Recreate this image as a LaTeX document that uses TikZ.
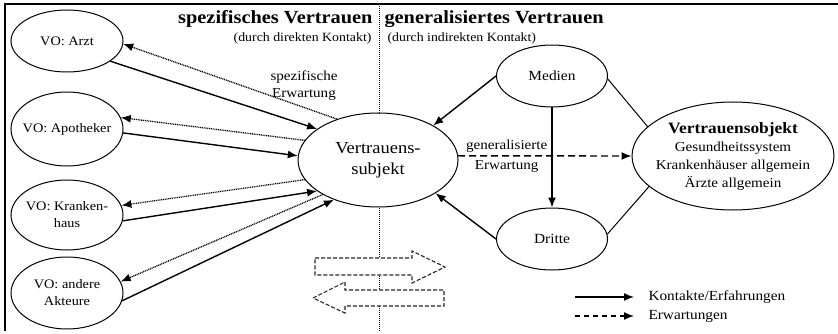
\documentclass[tikz,border=0pt]{standalone}
\usepackage{fontspec}
\setmainfont{Liberation Serif}[FakeStretch=1.1]
\usetikzlibrary{shapes.geometric, arrows, arrows.meta, positioning}
\tikzstyle{actor} = [ellipse, draw, line width=1pt, minimum width=112pt, minimum height=66pt, inner xsep=-8pt, inner ysep=-4pt, align=center, font=\fontsize{13}{17}\selectfont]
\tikzstyle{arrow} = [line width=1.4pt,->,>={Latex[length=10pt,width=8pt]},draw=black]
\tikzstyle{expect} = [line width=1.3pt,->,>={Latex[length=10pt,width=8pt]},draw=black,dash pattern=on 1pt off 0.8pt]
\tikzstyle{general} = [line width=1.4pt,->,>={Latex[length=10pt,width=8pt]},draw=black,dash pattern=on 7pt off 4pt]
\tikzstyle{link} = [line width=1pt,draw=black]
\tikzstyle{bigarrow} = [draw=black!85, fill=white, line width=1.1pt, dash pattern=on 4pt off 2pt]
\tikzstyle{lbl} = [font=\fontsize{13.7}{17}\selectfont, align=center]

\begin{document}
\begin{tikzpicture}[x=1pt, y=-1pt, node distance=163pt, text centered, auto]
        \useasboundingbox (0,0) rectangle (838,334);
        \draw[line width=1.8pt] (5,331) -- (5,4) -- (838,4);

        % Trennlinie
        \draw[line width=0.9pt, dash pattern=on 1pt off 1pt] (379,6) -- (379,332);

        % Ueberschriften
        \node (spez) [anchor=east, font=\fontsize{18.5}{20}\selectfont\bfseries] at (376,19) {spezifisches Vertrauen};
        \node (spezsub) [anchor=east, font=\fontsize{12.6}{14}\selectfont] at (375,38) {(durch direkten Kontakt)};
        \node (gen) [anchor=west, font=\fontsize{18.5}{20}\selectfont\bfseries] at (381,19) {generalisiertes Vertrauen};
        \node (gensub) [anchor=west, font=\fontsize{12.6}{14}\selectfont] at (384,38) {(durch indirekten Kontakt)};

        % Vertrauensobjekte links
        \node (arzt) [actor, minimum height=62pt] at (67,41) {VO: Arzt};
        \node (apo) [actor, minimum height=74pt] at (67,129) {VO: Apotheker};
        \node (kh) [actor, minimum height=70pt] at (67,215) {VO: Kranken-\\haus};
        \node (andere) [actor, minimum height=72pt] at (67,293) {VO: andere\\Akteure};

        \node (subj) [actor, fill=white, minimum width=160pt, minimum height=94pt, font=\fontsize{16.8}{21}\selectfont] at (378,160) {Vertrauens-\\subjekt};

        \node (medien) [actor, minimum width=111pt, minimum height=62pt, font=\fontsize{14}{17}\selectfont] at (552,76) {Medien};
        \node (dritte) [actor, minimum width=111pt, minimum height=62pt, font=\fontsize{14}{17}\selectfont] [below of=medien] {Dritte};
        \node (objekt) [actor, minimum width=202pt, minimum height=108pt, font=\fontsize{13.7}{18}\selectfont] at (733,156)
            {{\fontsize{15.8}{18}\selectfont\bfseries Vertrauensobjekt}\\Gesundheitssystem\\Krankenhäuser allgemein\\Ärzte allgemein};

        \node (spezerw) [lbl] at (304,86) {spezifische\\Erwartung};

        % spezifisches Vertrauen
        \draw[arrow] (arzt.-25) -- (subj.153);
        \draw[expect] (subj.135) -- (arzt.-3);
        \draw[expect] (subj.165) -- (apo.12);
        \draw[arrow] (apo.-4) -- (subj.177);
        \draw[expect] (subj.195) -- (kh.10);
        \draw[arrow] (kh.-6) -- (subj.207);
        \draw[expect] (subj.212) -- (andere.12);
        \draw[arrow] (andere.-8) -- (subj.222);

        % generalisiertes Vertrauen
        \draw[arrow] (medien.west) -- (subj.32);
        \draw[arrow] (medien.south) -- (dritte.north);
        \draw[arrow] (dritte.west) -- (subj.-30);
        \draw[link] (medien.-3) -- (objekt.161);
        \draw[link] (dritte.5) -- (objekt.200);
        \draw[general] (subj.3) -- node[lbl, pos=0.28, anchor=center, font=\fontsize{13.7}{20}\selectfont] {generalisierte\\Erwartung} (objekt.west);

        % Wechselpfeile
        \draw[bigarrow] (315,258) -- (412,258) -- (412,251) -- (445,267) -- (412,283) -- (412,275) -- (315,275) -- cycle;
        \draw[bigarrow] (313,298) -- (345,282) -- (345,290) -- (444,290) -- (444,306) -- (345,306) -- (345,313) -- cycle;

        % Legende
        \coordinate (leg1a) at (575,297);
        \coordinate (leg1b) at (634,297);
        \coordinate (leg2a) at (575,316);
        \coordinate (leg2b) at (634,316);
        \draw[arrow] (leg1a) -- (leg1b);
        \draw[general, dash pattern=on 5pt off 4pt] (leg2a) -- (leg2b);
        \node (leg1) [anchor=west, font=\fontsize{13.9}{15}\selectfont] at (645,297) {Kontakte/Erfahrungen};
        \node (leg2) [anchor=west, font=\fontsize{13.9}{15}\selectfont] at (645,316) {Erwartungen};

    \end{tikzpicture}
\end{document}
